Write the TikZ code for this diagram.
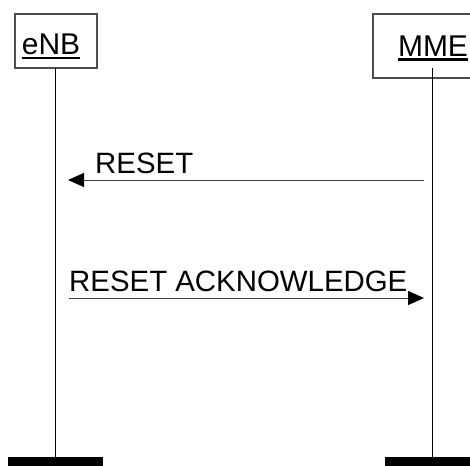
\documentclass[tikz,border=0pt]{standalone}
\usepackage{fontspec}
\setmainfont{Liberation Sans}
\usetikzlibrary{arrows.meta}
\newcommand{\thickul}[1]{\leavevmode\vtop{\hbox{#1}\kern1.5pt\hrule height 2.2pt}}
\tikzset{
  headbox/.style={draw=black!70,line width=1.2pt,inner sep=0pt},
  headtext/.style={anchor=base,inner sep=0pt,font=\fontsize{30}{35}\selectfont},
  msgtext/.style={anchor=base west,inner sep=0pt,font=\fontsize{29.4}{34}\selectfont},
  lifeline/.style={draw=black,line width=1pt},
  msg/.style={draw=black!75,line width=1pt,-{Triangle[length=16pt,width=14pt,color=black]}},
  endbar/.style={draw=black,line width=9pt}
}
\begin{document}
\begin{tikzpicture}[x=1pt,y=1pt,yscale=-1,xscale=1]
\useasboundingbox (0,0) rectangle (470,465);
\clip (0,0) rectangle (470,465);
        % heads
        \node [headbox,minimum width=82pt,minimum height=54pt] (enb) at (56,41) {};
        \node [headbox,minimum width=120pt,minimum height=64pt] (mme) at (433,46) {};
        \node [headtext] (enbname) at (51,55) {\thickul{eNB}};
        \node [headtext] (mmename) at (433,57) {\thickul{MME}};
        % life lines
        \coordinate (enbtop) at (55,68);
        \coordinate (enbend) at (55,461);
        \coordinate (mmetop) at (432.5,68);
        \coordinate (mmeend) at (432.5,461);
        \draw [lifeline] (enbtop) -- (enbend);
        \draw [lifeline] (mmetop) -- (mmeend);
        % messages
        \coordinate (resetfrom) at (424,180);
        \coordinate (resetto) at (68,180);
        \coordinate (ackfrom) at (69,298);
        \coordinate (ackto) at (424,298);
        \draw [msg] (resetfrom) -- (resetto);
        \node [msgtext] (resetlbl) at (95,173) {RESET};
        \draw [msg] (ackfrom) -- (ackto);
        \node [msgtext] (acklbl) at (69,291) {RESET ACKNOWLEDGE};
        % ends
        \draw [endbar] (8,461.5) -- (103,461.5);
        \draw [endbar] (385,461.5) -- (481,461.5);
\end{tikzpicture}
\end{document}
